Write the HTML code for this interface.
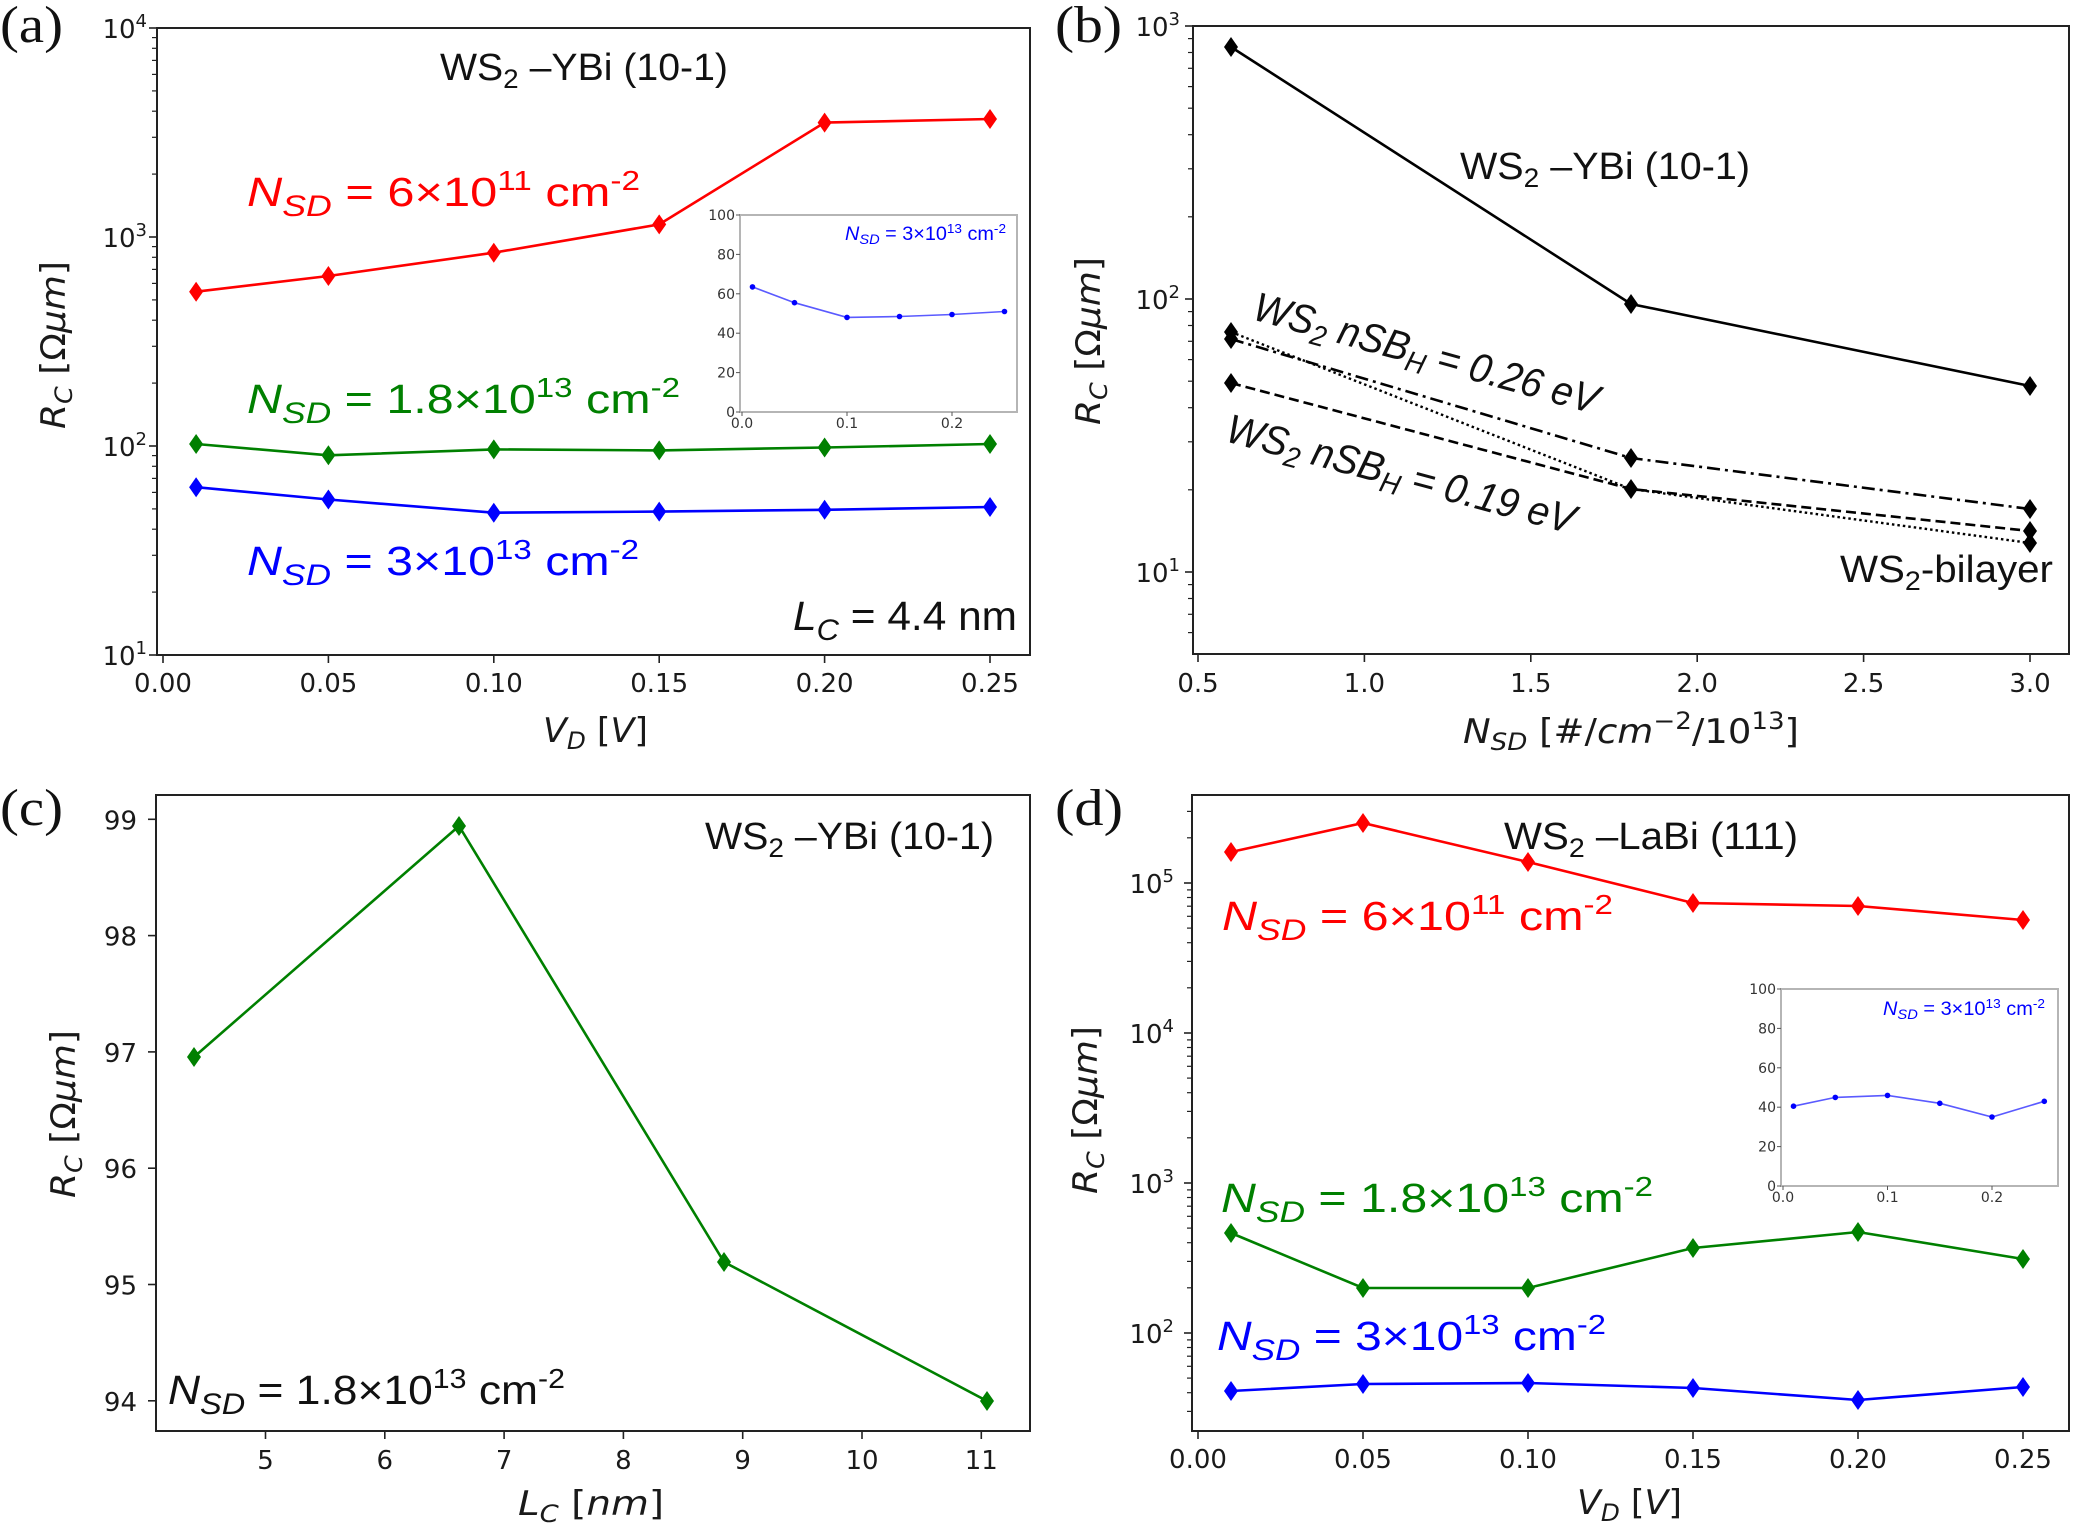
<!DOCTYPE html>
<html><head><meta charset="utf-8"><style>
html,body{margin:0;padding:0;background:#fff}
svg{display:block}
.tk{font-family:"DejaVu Sans","Liberation Sans",sans-serif;font-size:26px;fill:#1a1a1a}
.ti{font-family:"DejaVu Sans","Liberation Sans",sans-serif;font-size:14px;fill:#333}
.an{font-family:"Liberation Sans",sans-serif;font-size:41px}
.at{font-family:"Liberation Sans",sans-serif;font-size:38px}
.ai{font-family:"Liberation Sans",sans-serif;font-size:19px}
.lb{font-family:"DejaVu Sans","Liberation Sans",sans-serif;font-size:34px;fill:#1a1a1a}
.pl{font-family:"Liberation Serif",serif;font-size:52px;fill:#111}
.it{font-style:italic}
.fr{fill:none;stroke:#222;stroke-width:2}
.mj{stroke:#222;stroke-width:1.6}
.mn{stroke:#222;stroke-width:1.2}
</style></head><body>
<svg width="2073" height="1525" viewBox="0 0 2073 1525" xmlns="http://www.w3.org/2000/svg">
<defs><path id="dm" d="M0,-10 L7,0 L0,10 L-7,0Z"/></defs>
<rect width="2073" height="1525" fill="#fff"/>

<!-- ================= PANEL A ================= -->
<text class="pl" x="0" y="42" textLength="63" lengthAdjust="spacingAndGlyphs">(a)</text>
<rect class="fr" x="157" y="28" width="873" height="627"/>
<g class="mj"><line x1="149" y1="28" x2="157" y2="28"/><line x1="149" y1="237" x2="157" y2="237"/><line x1="149" y1="446" x2="157" y2="446"/><line x1="149" y1="655" x2="157" y2="655"/></g>
<g class="mn">
<line x1="152" x2="157" y1="592.1" y2="592.1"/><line x1="152" x2="157" y1="555.3" y2="555.3"/><line x1="152" x2="157" y1="529.2" y2="529.2"/><line x1="152" x2="157" y1="508.9" y2="508.9"/><line x1="152" x2="157" y1="492.4" y2="492.4"/><line x1="152" x2="157" y1="478.4" y2="478.4"/><line x1="152" x2="157" y1="466.3" y2="466.3"/><line x1="152" x2="157" y1="455.6" y2="455.6"/>
<line x1="152" x2="157" y1="383.1" y2="383.1"/><line x1="152" x2="157" y1="346.3" y2="346.3"/><line x1="152" x2="157" y1="320.2" y2="320.2"/><line x1="152" x2="157" y1="299.9" y2="299.9"/><line x1="152" x2="157" y1="283.4" y2="283.4"/><line x1="152" x2="157" y1="269.4" y2="269.4"/><line x1="152" x2="157" y1="257.3" y2="257.3"/><line x1="152" x2="157" y1="246.6" y2="246.6"/>
<line x1="152" x2="157" y1="174.1" y2="174.1"/><line x1="152" x2="157" y1="137.3" y2="137.3"/><line x1="152" x2="157" y1="111.2" y2="111.2"/><line x1="152" x2="157" y1="90.9" y2="90.9"/><line x1="152" x2="157" y1="74.4" y2="74.4"/><line x1="152" x2="157" y1="60.4" y2="60.4"/><line x1="152" x2="157" y1="48.3" y2="48.3"/><line x1="152" x2="157" y1="37.6" y2="37.6"/>
</g>
<g class="tk" text-anchor="end">
<text x="147" y="38">10<tspan dy="-11" font-size="18">4</tspan></text>
<text x="147" y="247">10<tspan dy="-11" font-size="18">3</tspan></text>
<text x="147" y="456">10<tspan dy="-11" font-size="18">2</tspan></text>
<text x="147" y="665">10<tspan dy="-11" font-size="18">1</tspan></text>
</g>
<g class="mj"><line x1="163" y1="655" x2="163" y2="663"/><line x1="328.4" y1="655" x2="328.4" y2="663"/><line x1="493.8" y1="655" x2="493.8" y2="663"/><line x1="659.2" y1="655" x2="659.2" y2="663"/><line x1="824.6" y1="655" x2="824.6" y2="663"/><line x1="990" y1="655" x2="990" y2="663"/></g>
<g class="tk" text-anchor="middle">
<text x="163" y="692">0.00</text><text x="328.4" y="692">0.05</text><text x="493.8" y="692">0.10</text><text x="659.2" y="692">0.15</text><text x="824.6" y="692">0.20</text><text x="990" y="692">0.25</text>
</g>
<text class="lb" x="543" y="742" textLength="105" lengthAdjust="spacingAndGlyphs"><tspan class="it">V</tspan><tspan class="it" font-size="24" dy="7">D</tspan><tspan dy="-7"> [</tspan><tspan class="it">V</tspan>]</text>
<text class="lb" transform="translate(65,345) rotate(-90)" text-anchor="middle" textLength="168" lengthAdjust="spacingAndGlyphs"><tspan class="it">R</tspan><tspan class="it" font-size="24" dy="7">C</tspan><tspan dy="-7"> [Ω</tspan><tspan class="it">μm</tspan>]</text>

<text class="at" x="440" y="80" fill="#111" textLength="288" lengthAdjust="spacingAndGlyphs">WS<tspan font-size="27" dy="8">2</tspan><tspan dy="-8"> –YBi (10-1)</tspan></text>

<polyline fill="none" stroke="#ff0000" stroke-width="2.6" points="196.1,291.7 328.4,276 493.8,252.7 659.2,224.4 824.6,122.6 990,119"/>
<g fill="#ff0000"><use href="#dm" x="196.1" y="291.7"/><use href="#dm" x="328.4" y="276"/><use href="#dm" x="493.8" y="252.7"/><use href="#dm" x="659.2" y="224.4"/><use href="#dm" x="824.6" y="122.6"/><use href="#dm" x="990" y="119"/></g>
<polyline fill="none" stroke="#008000" stroke-width="2.6" points="196.1,444 328.4,455.3 493.8,449.4 659.2,450.4 824.6,447.5 990,444"/>
<g fill="#008000"><use href="#dm" x="196.1" y="444"/><use href="#dm" x="328.4" y="455.3"/><use href="#dm" x="493.8" y="449.4"/><use href="#dm" x="659.2" y="450.4"/><use href="#dm" x="824.6" y="447.5"/><use href="#dm" x="990" y="444"/></g>
<polyline fill="none" stroke="#0000ff" stroke-width="2.6" points="196.1,487.2 328.4,499.5 493.8,512.7 659.2,511.6 824.6,509.8 990,507"/>
<g fill="#0000ff"><use href="#dm" x="196.1" y="487.2"/><use href="#dm" x="328.4" y="499.5"/><use href="#dm" x="493.8" y="512.7"/><use href="#dm" x="659.2" y="511.6"/><use href="#dm" x="824.6" y="509.8"/><use href="#dm" x="990" y="507"/></g>

<text class="an" x="247" y="206" fill="#ff0000" textLength="393" lengthAdjust="spacingAndGlyphs"><tspan class="it">N</tspan><tspan class="it" font-size="30" dy="10">SD</tspan><tspan dy="-10"> = 6×10</tspan><tspan font-size="28" dy="-16">11</tspan><tspan dy="16"> cm</tspan><tspan font-size="28" dy="-16">-2</tspan></text>
<text class="an" x="247" y="413" fill="#008000" textLength="433" lengthAdjust="spacingAndGlyphs"><tspan class="it">N</tspan><tspan class="it" font-size="30" dy="10">SD</tspan><tspan dy="-10"> = 1.8×10</tspan><tspan font-size="28" dy="-16">13</tspan><tspan dy="16"> cm</tspan><tspan font-size="28" dy="-16">-2</tspan></text>
<text class="an" x="247" y="575" fill="#0000ff" textLength="392" lengthAdjust="spacingAndGlyphs"><tspan class="it">N</tspan><tspan class="it" font-size="30" dy="10">SD</tspan><tspan dy="-10"> = 3×10</tspan><tspan font-size="28" dy="-16">13</tspan><tspan dy="16"> cm</tspan><tspan font-size="28" dy="-16">-2</tspan></text>
<text class="an" x="793" y="630" fill="#111" textLength="224" lengthAdjust="spacingAndGlyphs"><tspan class="it">L</tspan><tspan class="it" font-size="30" dy="10">C</tspan><tspan dy="-10"> = 4.4 nm</tspan></text>

<!-- inset a -->
<rect x="740" y="215" width="277" height="197" fill="#fff" stroke="#b5b5b5" stroke-width="2"/>
<g stroke="#555" stroke-width="1"><line x1="736" x2="740" y1="215" y2="215"/><line x1="736" x2="740" y1="254.4" y2="254.4"/><line x1="736" x2="740" y1="293.8" y2="293.8"/><line x1="736" x2="740" y1="333.2" y2="333.2"/><line x1="736" x2="740" y1="372.6" y2="372.6"/><line x1="736" x2="740" y1="412" y2="412"/>
<line x1="742" x2="742" y1="412" y2="416"/><line x1="847" x2="847" y1="412" y2="416"/><line x1="952" x2="952" y1="412" y2="416"/></g>
<g class="ti" text-anchor="end"><text x="735" y="220">100</text><text x="735" y="259.4">80</text><text x="735" y="298.8">60</text><text x="735" y="338.2">40</text><text x="735" y="377.6">20</text><text x="735" y="417">0</text></g>
<g class="ti" text-anchor="middle"><text x="742" y="428">0.0</text><text x="847" y="428">0.1</text><text x="952" y="428">0.2</text></g>
<polyline fill="none" stroke="#5a5aff" stroke-width="1.6" points="752.5,286.9 794.5,302.7 847,317.4 899.5,316.5 952,314.5 1004.5,311.5"/>
<g fill="#0000ff"><circle cx="752.5" cy="286.9" r="2.8"/><circle cx="794.5" cy="302.7" r="2.8"/><circle cx="847" cy="317.4" r="2.8"/><circle cx="899.5" cy="316.5" r="2.8"/><circle cx="952" cy="314.5" r="2.8"/><circle cx="1004.5" cy="311.5" r="2.8"/></g>
<text class="ai" x="845" y="240" fill="#0000ff" textLength="161" lengthAdjust="spacingAndGlyphs"><tspan class="it">N</tspan><tspan class="it" font-size="14" dy="4">SD</tspan><tspan dy="-4"> = 3×10</tspan><tspan font-size="13" dy="-7">13</tspan><tspan dy="7"> cm</tspan><tspan font-size="13" dy="-7">-2</tspan></text>

<!-- ================= PANEL B ================= -->
<text class="pl" x="1055" y="42" textLength="67" lengthAdjust="spacingAndGlyphs">(b)</text>
<rect class="fr" x="1193" y="26" width="876" height="628"/>
<g class="mj"><line x1="1185" y1="26" x2="1193" y2="26"/><line x1="1185" y1="299" x2="1193" y2="299"/><line x1="1185" y1="572" x2="1193" y2="572"/></g>
<g class="mn">
<line x1="1188" x2="1193" y1="216.8" y2="216.8"/><line x1="1188" x2="1193" y1="168.8" y2="168.8"/><line x1="1188" x2="1193" y1="134.7" y2="134.7"/><line x1="1188" x2="1193" y1="108.2" y2="108.2"/><line x1="1188" x2="1193" y1="86.6" y2="86.6"/><line x1="1188" x2="1193" y1="68.3" y2="68.3"/><line x1="1188" x2="1193" y1="52.5" y2="52.5"/><line x1="1188" x2="1193" y1="38.6" y2="38.6"/>
<line x1="1188" x2="1193" y1="489.8" y2="489.8"/><line x1="1188" x2="1193" y1="441.8" y2="441.8"/><line x1="1188" x2="1193" y1="407.7" y2="407.7"/><line x1="1188" x2="1193" y1="381.2" y2="381.2"/><line x1="1188" x2="1193" y1="359.6" y2="359.6"/><line x1="1188" x2="1193" y1="341.3" y2="341.3"/><line x1="1188" x2="1193" y1="325.5" y2="325.5"/><line x1="1188" x2="1193" y1="311.6" y2="311.6"/>
<line x1="1188" x2="1193" y1="632.6" y2="632.6"/><line x1="1188" x2="1193" y1="614.3" y2="614.3"/><line x1="1188" x2="1193" y1="598.5" y2="598.5"/><line x1="1188" x2="1193" y1="584.6" y2="584.6"/>
</g>
<g class="tk" text-anchor="end">
<text x="1180" y="36">10<tspan dy="-11" font-size="18">3</tspan></text>
<text x="1180" y="309">10<tspan dy="-11" font-size="18">2</tspan></text>
<text x="1180" y="582">10<tspan dy="-11" font-size="18">1</tspan></text>
</g>
<g class="mj"><line x1="1198" y1="654" x2="1198" y2="662"/><line x1="1364.4" y1="654" x2="1364.4" y2="662"/><line x1="1530.8" y1="654" x2="1530.8" y2="662"/><line x1="1697.2" y1="654" x2="1697.2" y2="662"/><line x1="1863.6" y1="654" x2="1863.6" y2="662"/><line x1="2030" y1="654" x2="2030" y2="662"/></g>
<g class="tk" text-anchor="middle">
<text x="1198" y="692">0.5</text><text x="1364.4" y="692">1.0</text><text x="1530.8" y="692">1.5</text><text x="1697.2" y="692">2.0</text><text x="1863.6" y="692">2.5</text><text x="2030" y="692">3.0</text>
</g>
<text class="lb" x="1463" y="743" textLength="336" lengthAdjust="spacingAndGlyphs"><tspan class="it">N</tspan><tspan class="it" font-size="24" dy="7">SD</tspan><tspan dy="-7"> [#/</tspan><tspan class="it">cm</tspan><tspan font-size="24" dy="-14">−2</tspan><tspan dy="14">/10</tspan><tspan font-size="24" dy="-14">13</tspan><tspan dy="14">]</tspan></text>
<text class="lb" transform="translate(1100,341) rotate(-90)" text-anchor="middle" textLength="168" lengthAdjust="spacingAndGlyphs"><tspan class="it">R</tspan><tspan class="it" font-size="24" dy="7">C</tspan><tspan dy="-7"> [Ω</tspan><tspan class="it">μm</tspan>]</text>

<polyline fill="none" stroke="#000" stroke-width="2.6" points="1231,47 1631,304 2030,386"/>
<polyline fill="none" stroke="#000" stroke-width="2.6" stroke-dasharray="13,5,3,5" points="1231,339 1631,458 2030,509"/>
<polyline fill="none" stroke="#000" stroke-width="2.4" stroke-dasharray="2.5,3" points="1231,332 1631,489 2030,543"/>
<polyline fill="none" stroke="#000" stroke-width="2.6" stroke-dasharray="10,5" points="1231,383 1631,489 2030,531"/>
<g fill="#000">
<use href="#dm" x="1231" y="47"/><use href="#dm" x="1631" y="304"/><use href="#dm" x="2030" y="386"/>
<use href="#dm" x="1231" y="339"/><use href="#dm" x="1631" y="458"/><use href="#dm" x="2030" y="509"/>
<use href="#dm" x="1231" y="332"/><use href="#dm" x="1631" y="489"/><use href="#dm" x="2030" y="543"/>
<use href="#dm" x="1231" y="383"/><use href="#dm" x="2030" y="531"/>
</g>
<text class="at" x="1460" y="179" fill="#111" textLength="290" lengthAdjust="spacingAndGlyphs">WS<tspan font-size="27" dy="8">2</tspan><tspan dy="-8"> –YBi (10-1)</tspan></text>
<text class="an it" transform="translate(1251,319) rotate(15.5)" fill="#111" textLength="356" lengthAdjust="spacingAndGlyphs">WS<tspan font-size="29" dy="8">2</tspan><tspan dy="-8"> nSB</tspan><tspan font-size="29" dy="8">H</tspan><tspan dy="-8"> = 0.26 eV</tspan></text>
<text class="an it" transform="translate(1224,441) rotate(15)" fill="#111" textLength="359" lengthAdjust="spacingAndGlyphs">WS<tspan font-size="29" dy="8">2</tspan><tspan dy="-8"> nSB</tspan><tspan font-size="29" dy="8">H</tspan><tspan dy="-8"> = 0.19 eV</tspan></text>
<text class="at" x="1840" y="582" fill="#111" textLength="213" lengthAdjust="spacingAndGlyphs">WS<tspan font-size="27" dy="8">2</tspan><tspan dy="-8">-bilayer</tspan></text>

<!-- ================= PANEL C ================= -->
<text class="pl" x="0" y="825" textLength="63" lengthAdjust="spacingAndGlyphs">(c)</text>
<rect class="fr" x="156" y="795" width="874" height="636"/>
<g class="mj">
<line x1="148" x2="156" y1="1400.8" y2="1400.8"/><line x1="148" x2="156" y1="1284.5" y2="1284.5"/><line x1="148" x2="156" y1="1168.2" y2="1168.2"/><line x1="148" x2="156" y1="1051.9" y2="1051.9"/><line x1="148" x2="156" y1="935.6" y2="935.6"/><line x1="148" x2="156" y1="819.3" y2="819.3"/>
<line x1="265.5" x2="265.5" y1="1431" y2="1439"/><line x1="384.8" x2="384.8" y1="1431" y2="1439"/><line x1="504.1" x2="504.1" y1="1431" y2="1439"/><line x1="623.4" x2="623.4" y1="1431" y2="1439"/><line x1="742.7" x2="742.7" y1="1431" y2="1439"/><line x1="862" x2="862" y1="1431" y2="1439"/><line x1="981.3" x2="981.3" y1="1431" y2="1439"/>
</g>
<g class="tk" text-anchor="end">
<text x="137" y="1410.8">94</text><text x="137" y="1294.5">95</text><text x="137" y="1178.2">96</text><text x="137" y="1061.9">97</text><text x="137" y="945.6">98</text><text x="137" y="829.3">99</text>
</g>
<g class="tk" text-anchor="middle">
<text x="265.5" y="1469">5</text><text x="384.8" y="1469">6</text><text x="504.1" y="1469">7</text><text x="623.4" y="1469">8</text><text x="742.7" y="1469">9</text><text x="862" y="1469">10</text><text x="981.3" y="1469">11</text>
</g>
<text class="lb" x="518" y="1515" textLength="146" lengthAdjust="spacingAndGlyphs"><tspan class="it">L</tspan><tspan class="it" font-size="24" dy="7">C</tspan><tspan dy="-7"> [</tspan><tspan class="it">nm</tspan>]</text>
<text class="lb" transform="translate(75,1114) rotate(-90)" text-anchor="middle" textLength="168" lengthAdjust="spacingAndGlyphs"><tspan class="it">R</tspan><tspan class="it" font-size="24" dy="7">C</tspan><tspan dy="-7"> [Ω</tspan><tspan class="it">μm</tspan>]</text>
<polyline fill="none" stroke="#008000" stroke-width="2.6" points="194,1057 459,826 724,1262 987,1401"/>
<g fill="#008000"><use href="#dm" x="194" y="1057"/><use href="#dm" x="459" y="826"/><use href="#dm" x="724" y="1262"/><use href="#dm" x="987" y="1401"/></g>
<text class="at" x="705" y="849" fill="#111" textLength="289" lengthAdjust="spacingAndGlyphs">WS<tspan font-size="27" dy="8">2</tspan><tspan dy="-8"> –YBi (10-1)</tspan></text>
<text class="an" x="168" y="1404" fill="#111" textLength="397" lengthAdjust="spacingAndGlyphs"><tspan class="it">N</tspan><tspan class="it" font-size="30" dy="10">SD</tspan><tspan dy="-10"> = 1.8×10</tspan><tspan font-size="28" dy="-16">13</tspan><tspan dy="16"> cm</tspan><tspan font-size="28" dy="-16">-2</tspan></text>

<!-- ================= PANEL D ================= -->
<text class="pl" x="1055" y="825" textLength="68" lengthAdjust="spacingAndGlyphs">(d)</text>
<rect class="fr" x="1192" y="795" width="877" height="636"/>
<g class="mj"><line x1="1184" x2="1192" y1="883" y2="883"/><line x1="1184" x2="1192" y1="1033" y2="1033"/><line x1="1184" x2="1192" y1="1183" y2="1183"/><line x1="1184" x2="1192" y1="1333" y2="1333"/></g>
<g class="mn">
<line x1="1187" x2="1192" y1="1411.4" y2="1411.4"/><line x1="1187" x2="1192" y1="1392.7" y2="1392.7"/><line x1="1187" x2="1192" y1="1378.1" y2="1378.1"/><line x1="1187" x2="1192" y1="1366.3" y2="1366.3"/><line x1="1187" x2="1192" y1="1356.2" y2="1356.2"/><line x1="1187" x2="1192" y1="1347.5" y2="1347.5"/><line x1="1187" x2="1192" y1="1339.9" y2="1339.9"/>
<line x1="1187" x2="1192" y1="1287.8" y2="1287.8"/><line x1="1187" x2="1192" y1="1261.4" y2="1261.4"/><line x1="1187" x2="1192" y1="1242.7" y2="1242.7"/><line x1="1187" x2="1192" y1="1228.1" y2="1228.1"/><line x1="1187" x2="1192" y1="1216.3" y2="1216.3"/><line x1="1187" x2="1192" y1="1206.2" y2="1206.2"/><line x1="1187" x2="1192" y1="1197.5" y2="1197.5"/><line x1="1187" x2="1192" y1="1189.9" y2="1189.9"/>
<line x1="1187" x2="1192" y1="1137.8" y2="1137.8"/><line x1="1187" x2="1192" y1="1111.4" y2="1111.4"/><line x1="1187" x2="1192" y1="1092.7" y2="1092.7"/><line x1="1187" x2="1192" y1="1078.1" y2="1078.1"/><line x1="1187" x2="1192" y1="1066.3" y2="1066.3"/><line x1="1187" x2="1192" y1="1056.2" y2="1056.2"/><line x1="1187" x2="1192" y1="1047.5" y2="1047.5"/><line x1="1187" x2="1192" y1="1039.9" y2="1039.9"/>
<line x1="1187" x2="1192" y1="987.8" y2="987.8"/><line x1="1187" x2="1192" y1="961.4" y2="961.4"/><line x1="1187" x2="1192" y1="942.7" y2="942.7"/><line x1="1187" x2="1192" y1="928.1" y2="928.1"/><line x1="1187" x2="1192" y1="916.3" y2="916.3"/><line x1="1187" x2="1192" y1="906.2" y2="906.2"/><line x1="1187" x2="1192" y1="897.5" y2="897.5"/><line x1="1187" x2="1192" y1="889.9" y2="889.9"/>
<line x1="1187" x2="1192" y1="837.8" y2="837.8"/><line x1="1187" x2="1192" y1="811.4" y2="811.4"/>
</g>
<g class="tk" text-anchor="end">
<text x="1174" y="893">10<tspan dy="-11" font-size="18">5</tspan></text>
<text x="1174" y="1043">10<tspan dy="-11" font-size="18">4</tspan></text>
<text x="1174" y="1193">10<tspan dy="-11" font-size="18">3</tspan></text>
<text x="1174" y="1343">10<tspan dy="-11" font-size="18">2</tspan></text>
</g>
<g class="mj"><line x1="1198" x2="1198" y1="1431" y2="1439"/><line x1="1363" x2="1363" y1="1431" y2="1439"/><line x1="1528" x2="1528" y1="1431" y2="1439"/><line x1="1693" x2="1693" y1="1431" y2="1439"/><line x1="1858" x2="1858" y1="1431" y2="1439"/><line x1="2023" x2="2023" y1="1431" y2="1439"/></g>
<g class="tk" text-anchor="middle">
<text x="1198" y="1468">0.00</text><text x="1363" y="1468">0.05</text><text x="1528" y="1468">0.10</text><text x="1693" y="1468">0.15</text><text x="1858" y="1468">0.20</text><text x="2023" y="1468">0.25</text>
</g>
<text class="lb" x="1577" y="1514" textLength="105" lengthAdjust="spacingAndGlyphs"><tspan class="it">V</tspan><tspan class="it" font-size="24" dy="7">D</tspan><tspan dy="-7"> [</tspan><tspan class="it">V</tspan>]</text>
<text class="lb" transform="translate(1097,1110) rotate(-90)" text-anchor="middle" textLength="168" lengthAdjust="spacingAndGlyphs"><tspan class="it">R</tspan><tspan class="it" font-size="24" dy="7">C</tspan><tspan dy="-7"> [Ω</tspan><tspan class="it">μm</tspan>]</text>

<polyline fill="none" stroke="#ff0000" stroke-width="2.6" points="1231,852 1363,823 1528,862 1693,903 1858,906 2023,920"/>
<g fill="#ff0000"><use href="#dm" x="1231" y="852"/><use href="#dm" x="1363" y="823"/><use href="#dm" x="1528" y="862"/><use href="#dm" x="1693" y="903"/><use href="#dm" x="1858" y="906"/><use href="#dm" x="2023" y="920"/></g>
<polyline fill="none" stroke="#008000" stroke-width="2.6" points="1231,1233 1363,1288 1528,1288 1693,1248 1858,1232 2023,1259"/>
<g fill="#008000"><use href="#dm" x="1231" y="1233"/><use href="#dm" x="1363" y="1288"/><use href="#dm" x="1528" y="1288"/><use href="#dm" x="1693" y="1248"/><use href="#dm" x="1858" y="1232"/><use href="#dm" x="2023" y="1259"/></g>
<polyline fill="none" stroke="#0000ff" stroke-width="2.6" points="1231,1391 1363,1384 1528,1383 1693,1388 1858,1400 2023,1387"/>
<g fill="#0000ff"><use href="#dm" x="1231" y="1391"/><use href="#dm" x="1363" y="1384"/><use href="#dm" x="1528" y="1383"/><use href="#dm" x="1693" y="1388"/><use href="#dm" x="1858" y="1400"/><use href="#dm" x="2023" y="1387"/></g>

<text class="at" x="1504" y="849" fill="#111" textLength="294" lengthAdjust="spacingAndGlyphs">WS<tspan font-size="27" dy="8">2</tspan><tspan dy="-8"> –LaBi (111)</tspan></text>
<text class="an" x="1222" y="930" fill="#ff0000" textLength="391" lengthAdjust="spacingAndGlyphs"><tspan class="it">N</tspan><tspan class="it" font-size="30" dy="10">SD</tspan><tspan dy="-10"> = 6×10</tspan><tspan font-size="28" dy="-16">11</tspan><tspan dy="16"> cm</tspan><tspan font-size="28" dy="-16">-2</tspan></text>
<text class="an" x="1221" y="1212" fill="#008000" textLength="432" lengthAdjust="spacingAndGlyphs"><tspan class="it">N</tspan><tspan class="it" font-size="30" dy="10">SD</tspan><tspan dy="-10"> = 1.8×10</tspan><tspan font-size="28" dy="-16">13</tspan><tspan dy="16"> cm</tspan><tspan font-size="28" dy="-16">-2</tspan></text>
<text class="an" x="1217" y="1350" fill="#0000ff" textLength="389" lengthAdjust="spacingAndGlyphs"><tspan class="it">N</tspan><tspan class="it" font-size="30" dy="10">SD</tspan><tspan dy="-10"> = 3×10</tspan><tspan font-size="28" dy="-16">13</tspan><tspan dy="16"> cm</tspan><tspan font-size="28" dy="-16">-2</tspan></text>

<!-- inset d -->
<rect x="1781" y="989" width="277" height="197" fill="#fff" stroke="#b5b5b5" stroke-width="2"/>
<g stroke="#555" stroke-width="1"><line x1="1777" x2="1781" y1="989" y2="989"/><line x1="1777" x2="1781" y1="1028.4" y2="1028.4"/><line x1="1777" x2="1781" y1="1067.8" y2="1067.8"/><line x1="1777" x2="1781" y1="1107.2" y2="1107.2"/><line x1="1777" x2="1781" y1="1146.6" y2="1146.6"/><line x1="1777" x2="1781" y1="1186" y2="1186"/>
<line x1="1783" x2="1783" y1="1186" y2="1190"/><line x1="1887.5" x2="1887.5" y1="1186" y2="1190"/><line x1="1992" x2="1992" y1="1186" y2="1190"/></g>
<g class="ti" text-anchor="end"><text x="1776" y="994">100</text><text x="1776" y="1033.4">80</text><text x="1776" y="1072.8">60</text><text x="1776" y="1112.2">40</text><text x="1776" y="1151.6">20</text><text x="1776" y="1191">0</text></g>
<g class="ti" text-anchor="middle"><text x="1783" y="1202">0.0</text><text x="1887.5" y="1202">0.1</text><text x="1992" y="1202">0.2</text></g>
<polyline fill="none" stroke="#5a5aff" stroke-width="1.6" points="1793.5,1106.2 1835.3,1097.4 1887.5,1095.4 1939.8,1103.3 1992,1117 2044.3,1101.3"/>
<g fill="#0000ff"><circle cx="1793.5" cy="1106.2" r="2.8"/><circle cx="1835.3" cy="1097.4" r="2.8"/><circle cx="1887.5" cy="1095.4" r="2.8"/><circle cx="1939.8" cy="1103.3" r="2.8"/><circle cx="1992" cy="1117" r="2.8"/><circle cx="2044.3" cy="1101.3" r="2.8"/></g>
<text class="ai" x="1883" y="1015" fill="#0000ff" textLength="162" lengthAdjust="spacingAndGlyphs"><tspan class="it">N</tspan><tspan class="it" font-size="14" dy="4">SD</tspan><tspan dy="-4"> = 3×10</tspan><tspan font-size="13" dy="-7">13</tspan><tspan dy="7"> cm</tspan><tspan font-size="13" dy="-7">-2</tspan></text>
</svg>
</body></html>
